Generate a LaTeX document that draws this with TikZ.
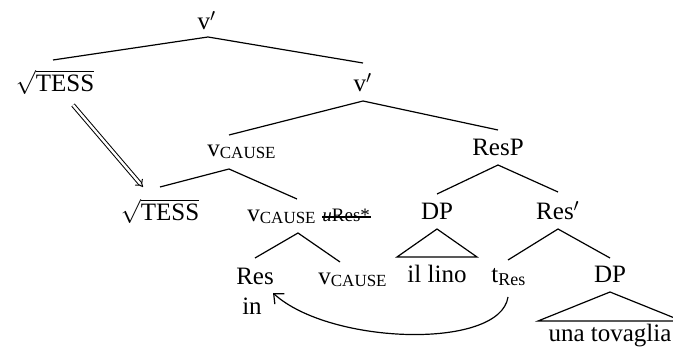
\documentclass[tikz,border=0pt]{standalone}
\usepackage{fontspec}
\setmainfont{Liberation Serif}
\usetikzlibrary{calc,arrows.meta}
\newcommand{\subcause}{\raisebox{-0.8pt}{\fontsize{8.5}{10}\selectfont CAUSE}}
\newcommand{\subres}{\raisebox{-1.2pt}{\fontsize{9}{10}\selectfont Res}}
\newcommand{\rootTESS}{$\sqrt{\hbox{TESS}\rule[-1pt]{0pt}{10.5pt}}$}
\begin{document}
\begin{tikzpicture}[x=0.5pt,y=-0.5pt,
  lab/.style={anchor=base, inner sep=0pt, font=\fontsize{12.5}{15}\selectfont},
  labw/.style={lab, anchor=base west},
  smalllab/.style={anchor=base west, inner sep=0pt, font=\fontsize{9.5}{11}\selectfont},
  edge/.style={line width=0.6pt}]
\useasboundingbox (0,0) rectangle (673,351);
% nodes
\node[lab] (top) at (207,30) {v$'$};
\node[lab] (tessA) at (55,92) {\rootTESS};
\node[lab] (vpB) at (363,92) {v$'$};
\node[labw] (vcA) at (207,157) {v\subcause};
\node[lab] (resp) at (498,156) {ResP};
\node[lab] (tessB) at (160,221) {\rootTESS};
\node[labw] (vcB) at (247,222) {v\subcause};
\node[smalllab] (ures) at (322,222) {\textit{u}Res*};
\node[lab] (dpA) at (437,220) {DP};
\node[lab] (resbar) at (558,220) {Res$'$};
\node[lab] (res) at (255,285) {Res};
\node[lab] (resin) at (252,315) {in};
\node[labw] (vcC) at (318,285) {v\subcause};
\node[lab] (lino) at (437,283) {il lino};
\node[labw] (tres) at (491,283) {t\subres};
\node[lab] (dpB) at (610,283) {DP};
\node[lab] (tova) at (610,342) {una tovaglia};
% strike-through
\draw[edge] ($(ures.base west)+(0,-5)$) -- ($(ures.base east)+(1,-5)$);
% tree edges
\draw[edge] ($(tessA.base)+(-2,-32)$) -- ($(top.base)+(1,7)$) -- ($(vpB.base)+(0,-29)$);
\draw[edge] ($(vcA.base west)+(22,-22)$) -- ($(vpB.base)+(0,9)$) -- ($(resp.base)+(0,-26)$);
\draw[edge] ($(tessB.base)+(0,-34)$) -- ($(vcA.base west)+(22,12)$) -- ($(vcB.base west)+(50,-23)$);
\draw[edge] ($(dpA.base)+(0,-26)$) -- ($(resp.base)+(0,9)$) -- ($(resbar.base)+(0,-28)$);
\draw[edge] ($(res.base)+(0,-27)$) -- ($(vcB.base west)+(51,11)$) -- ($(vcC.base west)+(22,-23)$);
\draw[edge] ($(lino.base)+(-40,-26)$) -- ($(dpA.base)+(0,9)$) -- ($(lino.base)+(40,-26)$) -- cycle;
\draw[edge] ($(tres.base west)+(17,-23)$) -- ($(resbar.base)+(0,9)$) -- ($(dpB.base)+(0,-25)$);
\draw[edge] ($(tova.base)+(-72,-21)$) -- ($(dpB.base)+(0,9)$) -- ($(tova.base)+(72,-21)$) -- cycle;
% double arrow
\draw[line width=0.5pt, double, double distance=1.2pt, -{Implies}] ($(tessA.base)+(18,13)$) -- ($(tessB.base)+(-17,-34)$);
% movement arrow
\draw[edge,-{Straight Barb[length=4pt,width=7pt]}] ($(tres.base west)+(17,14)$) .. controls (500,350) and (330,345) .. ($(resin.base)+(21,-22)$);
\end{tikzpicture}
\end{document}
